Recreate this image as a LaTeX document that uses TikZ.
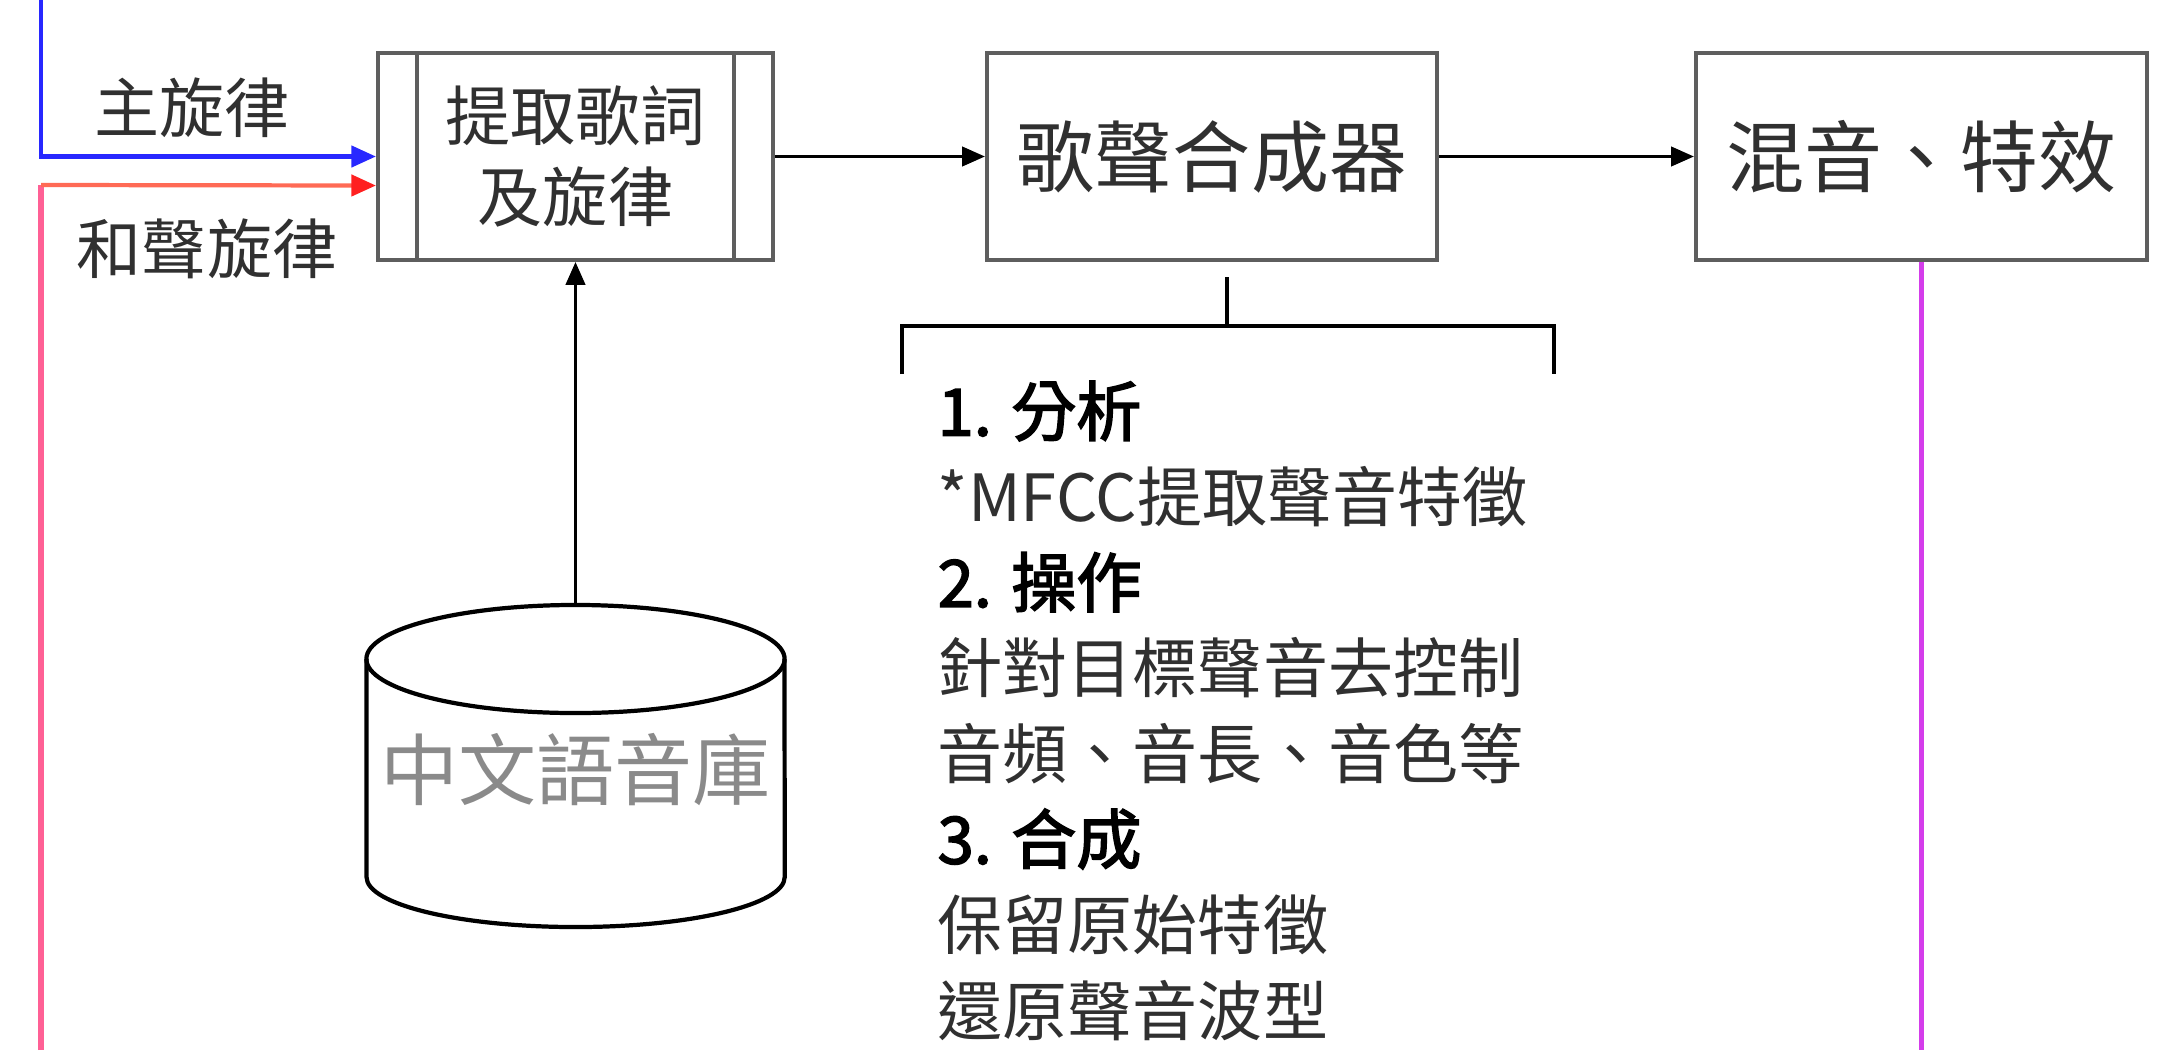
\documentclass[tikz,border=0pt]{standalone}
\usepackage{fontspec}
\setmainfont{Noto Sans CJK TC}[AutoFakeBold=2.5]
\usetikzlibrary{arrows.meta}
\definecolor{boxgray}{HTML}{5E5E5E}
\definecolor{txt}{HTML}{303030}
\definecolor{dbtxt}{HTML}{8A8A8A}
\definecolor{mblue}{HTML}{2828FF}
\definecolor{horange}{HTML}{FF6A55}
\definecolor{hred}{HTML}{FF2020}
\definecolor{hpink}{HTML}{FF6095}
\definecolor{mag}{HTML}{D43DEB}
\newcommand\smallsz{\fontsize{18.5pt}{23pt}\selectfont}
\newcommand\bigsz{\fontsize{22.2pt}{26pt}\selectfont}
\begin{document}
\begin{tikzpicture}[x=0.01cm,y=0.01cm,
 procbox/.style={draw=boxgray,line width=1.1pt,minimum height=2.07cm,inner sep=0pt,text=txt,align=center},
 conn/.style={line width=0.9pt,-{Triangle[length=6.5pt,width=5.5pt]}},
 lbl/.style={text=txt,font=\smallsz,inner sep=0pt},
 listline/.style={anchor=west,inner sep=0pt,text=txt,font=\smallsz},
 listhead/.style={anchor=west,inner sep=0pt,text=black,font=\smallsz\bfseries},
 cyl/.style={line width=1.2pt,draw=black},
 brk/.style={line width=1.4pt,draw=black},
]
\useasboundingbox (0,0) rectangle (2172,1050);

% boxes
\node[procbox,minimum width=3.95cm,font=\smallsz] (b1) at (575.5,893.5) {提取歌詞\\及旋律};
\draw[boxgray,line width=1.1pt] ([xshift=0.41cm]b1.north west) -- ([xshift=0.41cm]b1.south west);
\draw[boxgray,line width=1.1pt] ([xshift=-0.41cm]b1.north east) -- ([xshift=-0.41cm]b1.south east);
\node[procbox,minimum width=4.50cm,font=\bigsz] (b2) at (1212,893.5) {歌聲合成器};
\node[procbox,minimum width=4.51cm,font=\bigsz] (b3) at (1921.5,893.5) {混音、特效};

% input lines
\coordinate (bluestart) at (41,1050);
\coordinate (pinkend) at (41,0);
\coordinate (oc) at (41,865);
\draw[mblue,line width=1.2pt,-{Triangle[length=7pt,width=6pt]}] (bluestart) |- (b1.west);
\draw[hpink,line width=1.6pt] (pinkend) -- (oc);
\draw[horange,line width=1.2pt,-{Triangle[length=7pt,width=6pt,color=hred]}] (oc) -- ([yshift=-0.29cm]b1.west);
\node[lbl] (mainmel) at (192,942) {主旋律};
\node[lbl] (harmel) at (207,801) {和聲旋律};

% main arrows
\draw[conn] (b1.east) -- (b2.west);
\draw[conn] (b2.east) -- (b3.west);

% output line
\coordinate (magend) at (1921.5,0);
\draw[mag,line width=1.2pt] (b3.south) -- (magend);

% database cylinder
\draw[cyl] (575.5,391) ellipse [x radius=2.09cm,y radius=0.54cm];
\draw[cyl] (366.5,391) -- (366.5,173) arc[start angle=180,end angle=360,x radius=2.09cm,y radius=0.5cm] -- (784.5,391);
\node[text=dbtxt,font=\bigsz,inner sep=0pt] (db) at (575.5,280) {中文語音庫};
\coordinate (dbtop) at (575.5,445);
\draw[conn] (dbtop) -- (b1.south);

% bracket
\coordinate (stemtop) at (1227,773);
\coordinate (br) at (1227,724);
\coordinate (brL) at (902,676);
\coordinate (brR) at (1554,676);
\draw[brk] (stemtop) -- (br);
\draw[brk] (brL) |- (br) -| (brR);

% list
\node[listhead] (l1) at (937,639) {1. 分析};
\node[listline] (l2) at (937,553.4) {*MFCC提取聲音特徵};
\node[listhead] (l3) at (937,467.8) {2. 操作};
\node[listline] (l4) at (937,382.2) {針對目標聲音去控制};
\node[listline] (l5) at (937,296.6) {音頻、音長、音色等};
\node[listhead] (l6) at (937,211) {3. 合成};
\node[listline] (l7) at (937,125.4) {保留原始特徵};
\node[listline] (l8) at (937,39.8) {還原聲音波型};
\end{tikzpicture}
\end{document}
